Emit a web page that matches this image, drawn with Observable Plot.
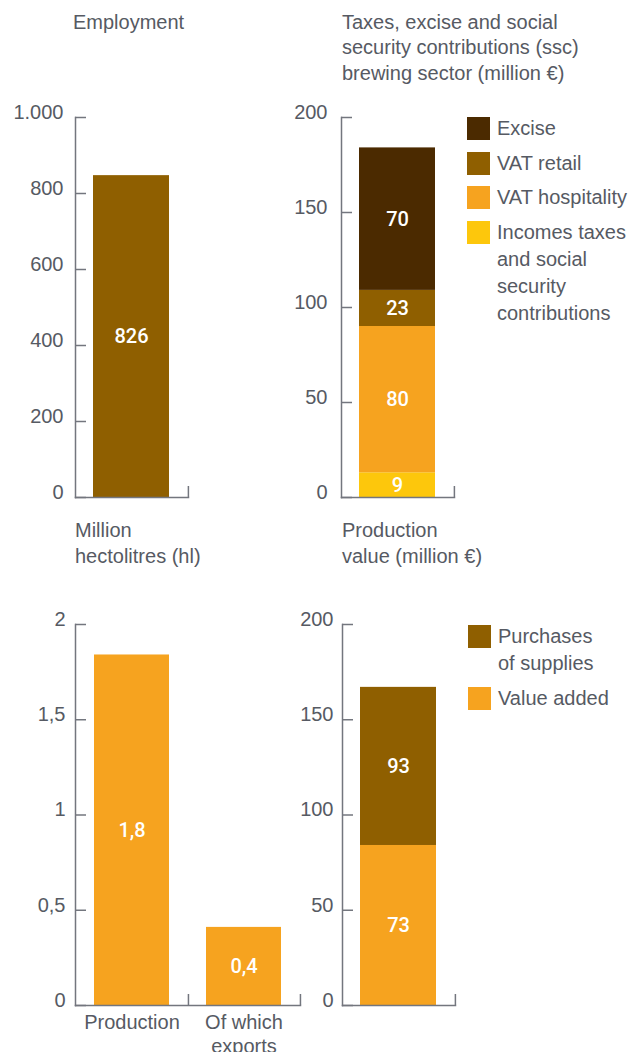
<!DOCTYPE html>
<html><head><meta charset="utf-8">
<script src="https://cdn.jsdelivr.net/npm/d3@7"></script>
<script src="https://cdn.jsdelivr.net/npm/@observablehq/plot@0.6"></script>
<style>
body{margin:0;background:#fff;}
#wrap{position:relative;width:632px;height:1052px;font-family:"Liberation Sans",Arial,sans-serif;color:#565a63;overflow:hidden;}
#wrap svg{position:absolute;left:0;top:0;background:transparent;}
.title{position:absolute;font-size:20px;line-height:25.5px;white-space:pre;}
.legend{position:absolute;font-size:20px;line-height:27px;}
.item{display:flex;align-items:flex-start;margin-bottom:7.5px;}
.sw{width:23px;height:23px;margin-top:2px;margin-right:7px;flex:none;}
.lt{white-space:pre;}
</style></head><body><div id="wrap"></div>
<script>
// ---------- data ----------
const empCategories = ["Employment"];
const empValues = [847];
const empLabels = ["826"];
const empTicks = [0, 200, 400, 600, 800, 1000];
const empTickLabels = ["0", "200", "400", "600", "800", "1.000"];
const empColor = "#8f5f00";

const taxSeries = ["Incomes taxes and social security contributions", "VAT hospitality", "VAT retail", "Excise"];
const taxValues = [13, 77, 19, 75];
const taxLabels = ["9", "80", "23", "70"];
const taxColors = ["#fdc70c", "#f6a31f", "#8f5f00", "#4b2a00"];
const taxLegend = ["Excise", "VAT retail", "VAT hospitality", "Incomes taxes\nand social\nsecurity\ncontributions"];
const taxTicks = [0, 50, 100, 150, 200];
const taxTickLabels = ["0", "50", "100", "150", "200"];

const volCategories = ["Production", "Of which\nexports"];
const volValues = [1.84, 0.41];
const volLabels = ["1,8", "0,4"];
const volTicks = [0, 0.5, 1, 1.5, 2];
const volTickLabels = ["0", "0,5", "1", "1,5", "2"];
const volColor = "#f6a31f";

const pvSeries = ["Value added", "Purchases of supplies"];
const pvValues = [84, 83];
const pvLabels = ["73", "93"];
const pvColors = ["#f6a31f", "#8f5f00"];
const pvLegend = ["Purchases\nof supplies", "Value added"];
const pvTicks = [0, 50, 100, 150, 200];
const pvTickLabels = ["0", "50", "100", "150", "200"];

// ---------- helpers ----------
const W = 632, H = 1052;
const textColor = "#565a63";
const axisColor = "#73767e";
const PI = 0.327, PO = 0.16;
const wrap = document.getElementById("wrap");

function panel({cats, rows, fill, colorDomain, colorRange, yDomain, ticks, tickLabels,
                axisX, frameW, yTop, y0, labelGap, xAxisLabels}) {
  const frameH = y0 - yTop;
  const step = frameW / (cats.length - PI + 2 * PO);
  const fmt = new Map(ticks.map((t, i) => [t, tickLabels[i]]));
  const marks = [
    Plot.barY(rows, {x: "cat", y: "value", fill}),
    Plot.text(rows, Plot.stackY({x: "cat", y: "value", text: "label", fill: "white",
      fontSize: 20, fontWeight: 500, fontFamily: "Roboto, 'Liberation Sans', sans-serif"})),
    Plot.axisY(ticks, {tickSize: 0, tickPadding: labelGap, tickFormat: d => fmt.get(d),
      fontSize: 20, dy: -5, color: textColor, label: null}),
    Plot.tickY(ticks, {y: d => d, insetRight: frameW - 11, stroke: axisColor, strokeWidth: 1.5}),
    Plot.frame({anchor: "left", stroke: axisColor, strokeWidth: 1.5}),
    Plot.frame({anchor: "bottom", stroke: axisColor, strokeWidth: 1.5}),
    Plot.ruleX(cats, {x: d => d, dx: step / 2, insetTop: frameH - 11, stroke: axisColor, strokeWidth: 1.5})
  ];
  if (xAxisLabels) {
    marks.push(Plot.axisX(cats, {tickSize: 0, tickPadding: 6, fontSize: 20, lineHeight: 1.2, color: textColor, label: null}));
  }
  const opts = {
    width: W, height: H,
    marginLeft: axisX, marginRight: W - axisX - frameW,
    marginTop: yTop, marginBottom: H - y0,
    x: {domain: cats, paddingInner: PI, paddingOuter: PO, axis: null, label: null},
    y: {domain: yDomain, axis: null, label: null},
    style: {background: "transparent", fontFamily: "'Liberation Sans', Arial, sans-serif", fontSize: "20px", color: textColor, overflow: "visible"},
    marks
  };
  if (colorDomain) opts.color = {domain: colorDomain, range: colorRange};
  wrap.appendChild(Plot.plot(opts));
}

function title(text, left, top) {
  const d = document.createElement("div");
  d.className = "title";
  d.style.left = left + "px";
  d.style.top = top + "px";
  d.textContent = text;
  wrap.appendChild(d);
}

function legend(labels, colors, left, top) {
  const d = document.createElement("div");
  d.className = "legend";
  d.style.left = left + "px";
  d.style.top = top + "px";
  labels.forEach((l, i) => {
    const it = document.createElement("div");
    it.className = "item";
    const sw = document.createElement("div");
    sw.className = "sw";
    sw.style.background = colors[i];
    const t = document.createElement("div");
    t.className = "lt";
    t.textContent = l;
    it.appendChild(sw); it.appendChild(t);
    d.appendChild(it);
  });
  wrap.appendChild(d);
}

// ---------- panels ----------
panel({
  cats: empCategories,
  rows: empCategories.map((c, i) => ({cat: c, value: empValues[i], label: empLabels[i]})),
  fill: empColor, yDomain: [0, 1000], ticks: empTicks, tickLabels: empTickLabels,
  axisX: 75, frameW: 113, yTop: 117, y0: 497, labelGap: 12
});

panel({
  cats: ["Taxes"],
  rows: taxSeries.map((s, i) => ({cat: "Taxes", series: s, value: taxValues[i], label: taxLabels[i]})),
  fill: "series", colorDomain: taxSeries, colorRange: taxColors,
  yDomain: [0, 200], ticks: taxTicks, tickLabels: taxTickLabels,
  axisX: 341, frameW: 113, yTop: 117, y0: 497, labelGap: 14
});

panel({
  cats: volCategories,
  rows: volCategories.map((c, i) => ({cat: c, value: volValues[i], label: volLabels[i]})),
  fill: volColor, yDomain: [0, 2], ticks: volTicks, tickLabels: volTickLabels,
  axisX: 75, frameW: 225, yTop: 624, y0: 1005, labelGap: 10, xAxisLabels: true
});

panel({
  cats: ["Production value"],
  rows: pvSeries.map((s, i) => ({cat: "Production value", series: s, value: pvValues[i], label: pvLabels[i]})),
  fill: "series", colorDomain: pvSeries, colorRange: pvColors,
  yDomain: [0, 200], ticks: pvTicks, tickLabels: pvTickLabels,
  axisX: 342, frameW: 113, yTop: 624, y0: 1005, labelGap: 9
});

// ---------- titles & legends ----------
title("Employment", 73, 9.5);
title("Taxes, excise and social\nsecurity contributions (ssc)\nbrewing sector (million €)", 342, 9.5);
title("Million\nhectolitres (hl)", 75, 518);
title("Production\nvalue (million €)", 342, 518);

legend(taxLegend, [taxColors[3], taxColors[2], taxColors[1], taxColors[0]], 467, 115);
legend(pvLegend, [pvColors[1], pvColors[0]], 468, 623);
</script></body></html>
